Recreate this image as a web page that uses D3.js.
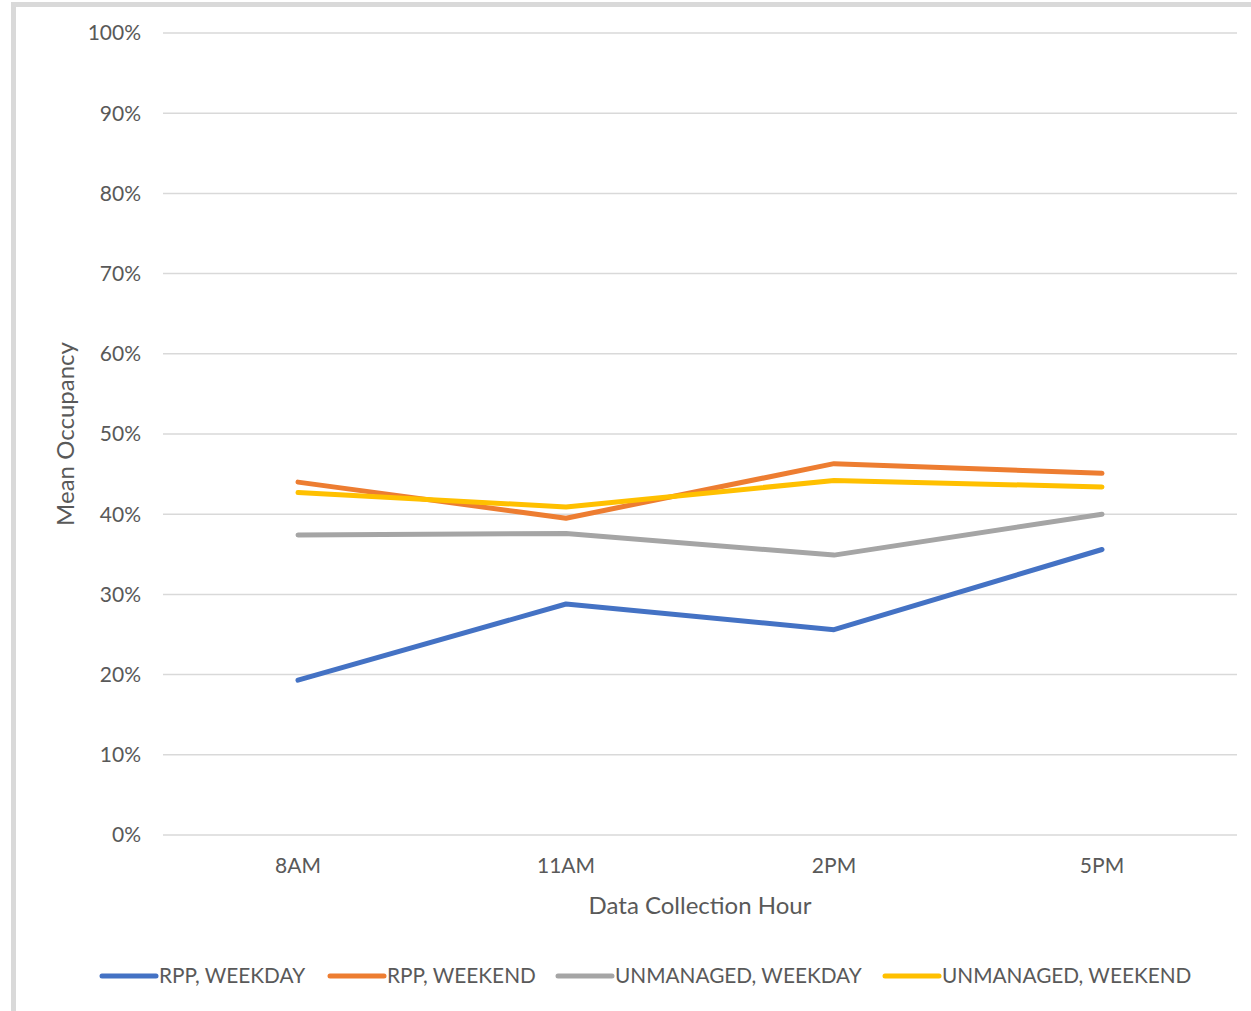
<!DOCTYPE html>
<head>
  <meta charset="utf-8">
  <script src="https://cdn.jsdelivr.net/npm/d3@7"></script>
  <style>
    body { margin:0; background:#fff; }
    text { font-family: Lato, sans-serif; fill:#595959; }
  </style>
</head>
<body>
<script>
  let width = 1251, height = 1011;

  // data
  const hours = ["8AM", "11AM", "2PM", "5PM"];
  const seriesNames = ["RPP, WEEKDAY", "RPP, WEEKEND", "UNMANAGED, WEEKDAY", "UNMANAGED, WEEKEND"];
  const rppWeekday = [19.3, 28.8, 25.6, 35.6];
  const rppWeekend = [44.0, 39.5, 46.3, 45.1];
  const unmanagedWeekday = [37.4, 37.6, 34.9, 40.0];
  const unmanagedWeekend = [42.7, 40.9, 44.2, 43.4];
  const yTicks = [0, 10, 20, 30, 40, 50, 60, 70, 80, 90, 100];
  const colors = ["#4472c4", "#ed7d31", "#a5a5a5", "#ffc000"];

  const allSeries = [rppWeekday, rppWeekend, unmanagedWeekday, unmanagedWeekend];

  let svg = d3.select("body").append("svg")
    .attr("width", width).attr("height", height);

  // chart border (cropped on right/bottom)
  svg.append("rect")
    .attr("x", 13.5).attr("y", 4.5)
    .attr("width", 1300).attr("height", 1100)
    .attr("fill", "none").attr("stroke", "#d9d9d9").attr("stroke-width", 5);

  let x = d3.scalePoint().domain(hours).range([298, 1102]);
  let y = d3.scaleLinear().domain([0, 100]).range([835, 33]);
  const left = 163, right = 1237;

  // gridlines
  svg.selectAll(".grid").data(yTicks).enter().append("line")
    .attr("x1", left).attr("x2", right)
    .attr("y1", d => y(d)).attr("y2", d => y(d))
    .attr("stroke", "#d9d9d9").attr("stroke-width", 1.5);

  // y labels
  svg.selectAll(".ylab").data(yTicks).enter().append("text")
    .attr("x", 141).attr("y", d => y(d))
    .attr("dy", "0.35em").attr("text-anchor", "end")
    .style("font-size", "21px")
    .text(d => d + "%");

  // x labels
  svg.selectAll(".xlab").data(hours).enter().append("text")
    .attr("x", d => x(d)).attr("y", 866)
    .attr("dy", "0.35em").attr("text-anchor", "middle")
    .style("font-size", "21px")
    .text(d => d);

  // axis titles
  svg.append("text")
    .attr("transform", "translate(66,434) rotate(-90)")
    .attr("dy", "0.35em").attr("text-anchor", "middle")
    .style("font-size", "24px")
    .text("Mean Occupancy");
  svg.append("text")
    .attr("x", 700).attr("y", 906)
    .attr("dy", "0.35em").attr("text-anchor", "middle")
    .style("font-size", "24px")
    .text("Data Collection Hour");

  // lines
  let line = d3.line().x((d, i) => x(hours[i])).y(d => y(d));
  svg.selectAll(".series").data(allSeries).enter().append("path")
    .attr("d", line)
    .attr("fill", "none")
    .attr("stroke", (d, i) => colors[i])
    .attr("stroke-width", 5)
    .attr("stroke-linecap", "round")
    .attr("stroke-linejoin", "round");

  // legend
  const legendX = [102, 330, 558, 885];
  let legend = svg.selectAll(".legend").data(seriesNames).enter().append("g")
    .attr("transform", (d, i) => "translate(" + legendX[i] + ",976)");
  legend.append("line")
    .attr("x1", 0).attr("x2", 54).attr("y1", 0).attr("y2", 0)
    .attr("stroke", (d, i) => colors[i])
    .attr("stroke-width", 5).attr("stroke-linecap", "round");
  legend.append("text")
    .attr("x", 57).attr("y", 0).attr("dy", "0.35em")
    .style("font-size", "20.8px")
    .text(d => d);
</script>
</body>
